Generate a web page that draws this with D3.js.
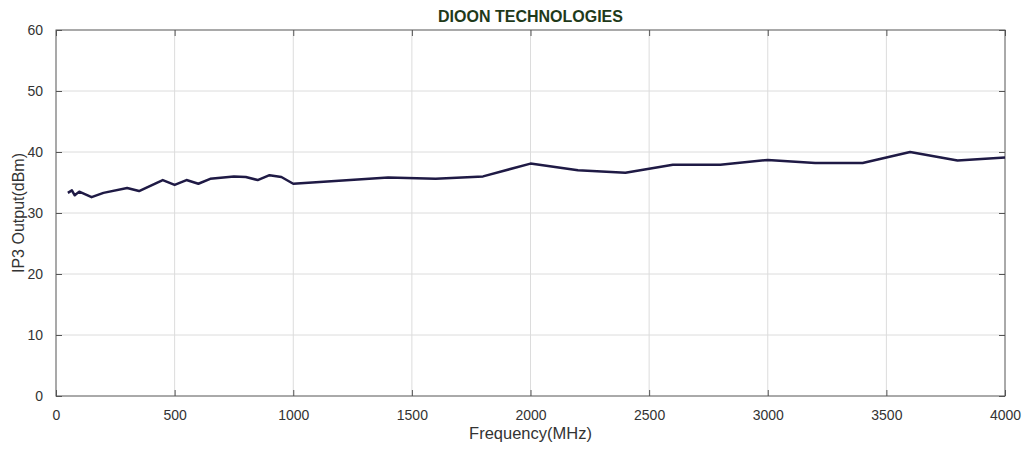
<!DOCTYPE html>
<html><head><meta charset="utf-8">
<script src="https://cdn.jsdelivr.net/npm/d3@7"></script>
<style>body{margin:0;background:#fff}svg{display:block}text{font-family:"Liberation Sans",Arial,sans-serif}</style>
</head><body><svg id="c" width="1029" height="450"></svg>
<script>
const freq = [50,67,79,98,150,200,300,350,450,500,550,600,650,750,800,850,900,950,1000,1400,1600,1800,2000,2200,2400,2600,2800,3000,3200,3400,3600,3800,4000];
const ip3  = [33.3,33.7,32.9,33.5,32.6,33.3,34.1,33.6,35.4,34.6,35.4,34.8,35.6,36.0,35.9,35.4,36.2,35.9,34.8,35.8,35.6,36.0,38.1,37.0,36.6,37.9,37.9,38.7,38.2,38.2,40.0,38.6,39.1];
const xTicks = [0,500,1000,1500,2000,2500,3000,3500,4000];
const yTicks = [0,10,20,30,40,50,60];
const title = "DIOON TECHNOLOGIES";
const xLabel = "Frequency(MHz)";
const yLabel = "IP3 Output(dBm)";

const svg = d3.select("#c");
const L=56, R=1005, T=30, B=396;
const x = d3.scaleLinear().domain([0,4000]).range([L,R]);
const y = d3.scaleLinear().domain([0,60]).range([B,T]);

// grid
svg.append("g").selectAll("line").data(xTicks.slice(1,-1)).join("line")
  .attr("x1",d=>x(d)).attr("x2",d=>x(d)).attr("y1",T).attr("y2",B)
  .attr("stroke","#dcdcdc").attr("stroke-width",1);
svg.append("g").selectAll("line").data(yTicks.slice(1,-1)).join("line")
  .attr("y1",d=>y(d)).attr("y2",d=>y(d)).attr("x1",L).attr("x2",R)
  .attr("stroke","#dcdcdc").attr("stroke-width",1);

// axes
const ax = (g)=>g.call(s=>s.select(".domain").remove()).call(s=>s.selectAll("line").attr("stroke","#555"))
  .call(s=>s.selectAll("text").attr("fill","#333").attr("font-size","14px"));
svg.append("g").attr("transform",`translate(0,${B})`)
  .call(d3.axisBottom(x).tickValues(xTicks).tickSize(-6).tickPadding(14).tickFormat(d3.format("d"))).call(ax);
svg.append("g").attr("transform",`translate(0,${T})`)
  .call(d3.axisTop(x).tickValues(xTicks).tickSize(-6).tickFormat("")).call(ax);
svg.append("g").attr("transform",`translate(${L},0)`)
  .call(d3.axisLeft(y).tickValues(yTicks).tickSize(-6).tickPadding(13)).call(ax);
svg.append("g").attr("transform",`translate(${R},0)`)
  .call(d3.axisRight(y).tickValues(yTicks).tickSize(-6).tickFormat("")).call(ax);

svg.append("rect").attr("x",L).attr("y",T).attr("width",R-L).attr("height",B-T)
  .attr("fill","none").attr("stroke","#555").attr("stroke-width",1);

// line
svg.append("path").datum(freq.map((f,i)=>[f,ip3[i]]))
  .attr("d",d3.line().x(d=>x(d[0])).y(d=>y(d[1])))
  .attr("fill","none").attr("stroke","#1f1a45").attr("stroke-width",2.5).attr("stroke-linejoin","round");

// labels
svg.append("text").attr("x",(L+R)/2).attr("y",22).attr("text-anchor","middle")
  .attr("font-size","16px").attr("font-weight","bold").attr("fill","#1f3a1a").text(title);
svg.append("text").attr("x",(L+R)/2).attr("y",439).attr("text-anchor","middle")
  .attr("font-size","16.5px").attr("fill","#333").text(xLabel);
svg.append("text").attr("transform",`translate(24,${(T+B)/2}) rotate(-90)`).attr("text-anchor","middle")
  .attr("font-size","16px").attr("fill","#333").text(yLabel);
</script></body></html>
